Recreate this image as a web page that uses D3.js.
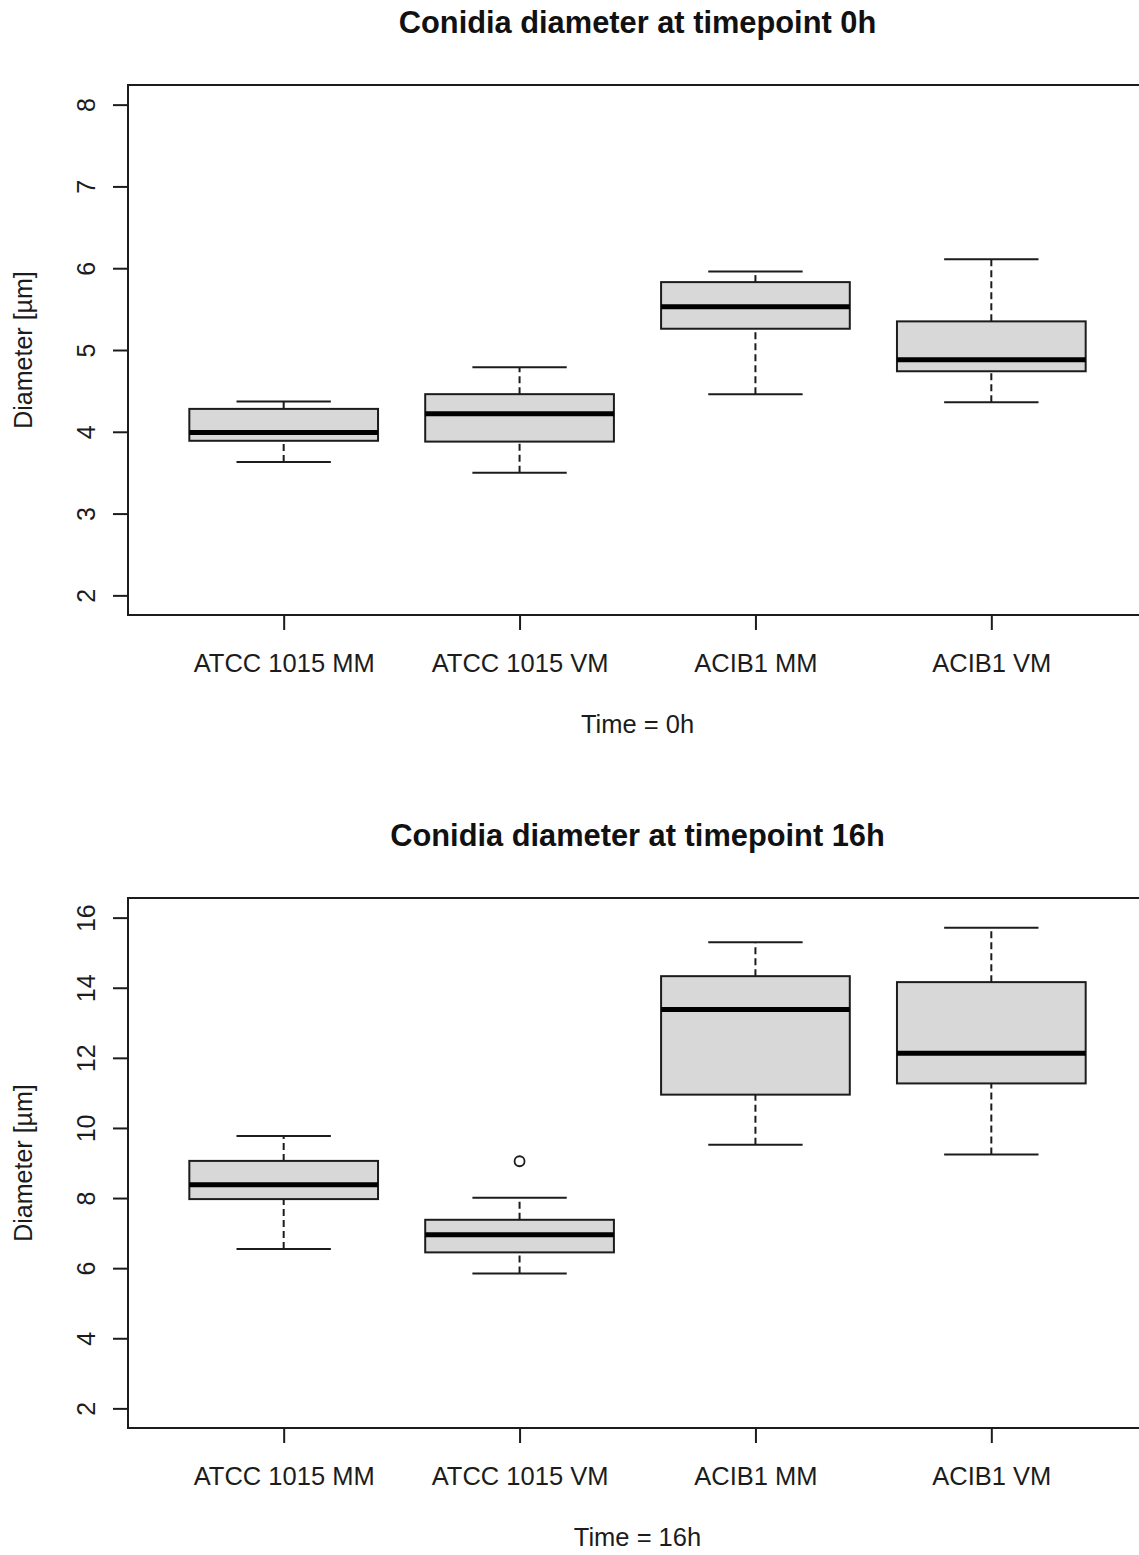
<!DOCTYPE html>
<html>
<head>
<meta charset="utf-8">
<script src="https://cdn.jsdelivr.net/npm/d3@7"></script>
<style>
  html, body { margin: 0; padding: 0; background: #fff; overflow: hidden; }
  svg { display: block; font-family: "Liberation Sans", Arial, sans-serif; }
</style>
</head>
<body>
<div id="chart"></div>
<script>
// groups on the x axis (same for both panels)
const groups = ["ATCC 1015 MM", "ATCC 1015 VM", "ACIB1 MM", "ACIB1 VM"]

// box stats per group: [lower whisker, Q1, median, Q3, upper whisker]
const stats0h = [
  [3.63, 3.89, 3.99, 4.28, 4.37],
  [3.50, 3.88, 4.22, 4.46, 4.79],
  [4.46, 5.26, 5.53, 5.83, 5.96],
  [4.36, 4.74, 4.88, 5.35, 6.11]
]
const stats16h = [
  [6.55, 7.97, 8.38, 9.06, 9.77],
  [5.85, 6.45, 6.95, 7.38, 8.01],
  [9.52, 10.95, 13.38, 14.33, 15.30],
  [9.24, 11.27, 12.13, 14.16, 15.71]
]
// outliers: [group index, value]
const outliers0h = []
const outliers16h = [[1, 9.05]]

const ticks0h = [2, 3, 4, 5, 6, 7, 8]
const ticks16h = [2, 4, 6, 8, 10, 12, 14, 16]

const width = 1139, height = 1555
const ink = "#1c1c1c"

const svg = d3.select("#chart").append("svg")
    .attr("width", width)
    .attr("height", height)

// R style: data range expanded by 4% on each side
function rRange(lo, hi) {
    const d = (hi - lo) * 0.04
    return [lo - d, hi + d]
}

function drawPanel(top, title, xlab, stats, outliers, yTicks, yLim) {
    const frame = {left: 128, right: 1147, top: top, bottom: top + 530}
    const g = svg.append("g")

    const x = d3.scaleLinear()
        .domain(rRange(0.5, groups.length + 0.5))
        .range([frame.left, frame.right])
    const y = d3.scaleLinear()
        .domain(rRange(yLim[0], yLim[1]))
        .range([frame.bottom, frame.top])

    // title
    g.append("text")
        .attr("x", (frame.left + frame.right) / 2)
        .attr("y", top - 52)
        .attr("text-anchor", "middle")
        .attr("font-size", 30.8)
        .attr("font-weight", "bold")
        .attr("fill", "#111")
        .text(title)

    // boxes
    const boxHalf = 0.4, stapleHalf = 0.2
    const box = g.selectAll("g.box")
        .data(stats)
        .join("g").attr("class", "box")

    // whiskers (dashed)
    box.append("line")
        .attr("x1", (d, i) => x(i + 1)).attr("x2", (d, i) => x(i + 1))
        .attr("y1", d => y(d[0])).attr("y2", d => y(d[1]))
        .attr("stroke", ink).attr("stroke-width", 2)
        .attr("stroke-dasharray", "7,4")
    box.append("line")
        .attr("x1", (d, i) => x(i + 1)).attr("x2", (d, i) => x(i + 1))
        .attr("y1", d => y(d[3])).attr("y2", d => y(d[4]))
        .attr("stroke", ink).attr("stroke-width", 2)
        .attr("stroke-dasharray", "7,4")

    // staples
    for (const k of [0, 4]) {
        box.append("line")
            .attr("x1", (d, i) => x(i + 1 - stapleHalf))
            .attr("x2", (d, i) => x(i + 1 + stapleHalf))
            .attr("y1", d => y(d[k])).attr("y2", d => y(d[k]))
            .attr("stroke", ink).attr("stroke-width", 2)
    }

    box.append("rect")
        .attr("x", (d, i) => x(i + 1 - boxHalf))
        .attr("width", x(1 + boxHalf) - x(1 - boxHalf))
        .attr("y", d => y(d[3]))
        .attr("height", d => y(d[1]) - y(d[3]))
        .attr("fill", "#d8d8d8")
        .attr("stroke", ink).attr("stroke-width", 2)

    // median
    box.append("line")
        .attr("x1", (d, i) => x(i + 1 - boxHalf))
        .attr("x2", (d, i) => x(i + 1 + boxHalf))
        .attr("y1", d => y(d[2])).attr("y2", d => y(d[2]))
        .attr("stroke", "#000").attr("stroke-width", 5)

    g.selectAll("circle.out")
        .data(outliers)
        .join("circle").attr("class", "out")
        .attr("cx", d => x(d[0] + 1))
        .attr("cy", d => y(d[1]))
        .attr("r", 5)
        .attr("fill", "#fff")
        .attr("stroke", ink).attr("stroke-width", 1.8)

    // frame
    g.append("rect")
        .attr("x", frame.left).attr("y", frame.top)
        .attr("width", frame.right - frame.left)
        .attr("height", frame.bottom - frame.top)
        .attr("fill", "none")
        .attr("stroke", ink).attr("stroke-width", 2)

    // y axis, labels rotated like R's default las=0
    const gy = g.append("g")
        .attr("transform", `translate(${frame.left},0)`)
        .call(d3.axisLeft(y).tickValues(yTicks).tickSize(15).tickFormat(d3.format("d")))
    gy.select(".domain").remove()
    gy.selectAll(".tick line").attr("stroke", ink).attr("stroke-width", 2)
    gy.selectAll(".tick text")
        .attr("transform", "rotate(-90)")
        .attr("x", 0).attr("y", -33).attr("dy", 0)
        .attr("text-anchor", "middle")
        .attr("font-size", 25)
        .attr("fill", ink)

    // x axis
    const gx = g.append("g")
        .attr("transform", `translate(0,${frame.bottom})`)
        .call(d3.axisBottom(x).tickValues(d3.range(1, groups.length + 1))
            .tickSize(15).tickFormat(d => groups[d - 1]))
    gx.select(".domain").remove()
    gx.selectAll(".tick line").attr("stroke", ink).attr("stroke-width", 2)
    gx.selectAll(".tick text")
        .attr("y", 57).attr("dy", 0)
        .attr("font-size", 25.5)
        .attr("fill", ink)

    // axis titles
    g.append("text")
        .attr("x", (frame.left + frame.right) / 2)
        .attr("y", frame.bottom + 118)
        .attr("text-anchor", "middle")
        .attr("font-size", 25.5)
        .attr("fill", ink)
        .text(xlab)

    g.append("text")
        .attr("transform", `translate(32,${(frame.top + frame.bottom) / 2}) rotate(-90)`)
        .attr("text-anchor", "middle")
        .attr("font-size", 25)
        .attr("fill", ink)
        .text("Diameter [µm]")
}

drawPanel(85, "Conidia diameter at timepoint 0h", "Time = 0h", stats0h, outliers0h, ticks0h, [2, 8])
drawPanel(898, "Conidia diameter at timepoint 16h", "Time = 16h", stats16h, outliers16h, ticks16h, [2, 16])
</script>
</body>
</html>
